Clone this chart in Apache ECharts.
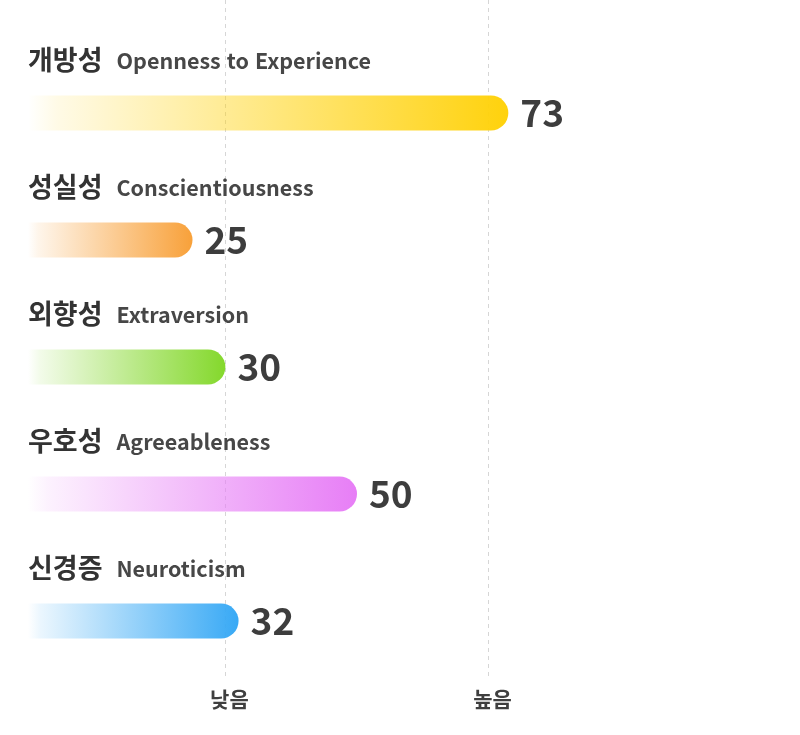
<!DOCTYPE html>
<html lang="ko">
<head>
    <meta charset="UTF-8">
    <title>성격 5요인</title>
    <script src="https://cdn.jsdelivr.net/npm/echarts@6/dist/echarts.min.js"></script>
    <style>
        *{
            margin:0;
            padding:0;
        }
        #main{
            width:800px;
            height:735px;
            background:#fff;
        }
    </style>
</head>
<body>
    <div id="main"></div>
    <script>
        var categories=['개방성','성실성','외향성','우호성','신경증']
        var englishNames=['Openness to Experience','Conscientiousness','Extraversion','Agreeableness','Neuroticism']
        var scores=[73,25,30,50,32]
        var barColors=['#FFD20C','#F8A13A','#84D82C','#E77EF6','#38A9F5']
        var levelTicks={30:'낮음',70:'높음'}  //눈금 라벨

        var font='"Noto Sans CJK KR", "Noto Sans", sans-serif'

        // 30, 70 위치에만 점선이 보이도록 색 배열
        var gridColors=[]
        for (var i=0;i<=10;i++){
            gridColors.push(levelTicks[i*10]?'#d6d6d6':'rgba(0,0,0,0)')
        }

        function fade(hex,a){
            var n=parseInt(hex.slice(1),16)
            return 'rgba('+(n>>16)+','+((n>>8)&255)+','+(n&255)+','+a+')'
        }

        var barData=scores.map(function(v,i){
            return {
                value:v,
                itemStyle:{
                    color:new echarts.graphic.LinearGradient(0,0,1,0,[
                        {offset:0,color:fade(barColors[i],0)},
                        {offset:0.06,color:fade(barColors[i],0.1)},
                        {offset:1,color:barColors[i]}
                    ]),
                    borderRadius:[0,18,18,0]
                }
            }
        })

        var myChart=echarts.init(document.getElementById('main'))
        var option={
            backgroundColor:'#fff',
            grid:[
                {left:28,right:114,top:0,bottom:55},      //점선 + 낮음/높음
                {left:28,right:114,top:49.5,height:635}   //막대
            ],
            xAxis:[
                {
                    gridIndex:0,
                    type:'value',
                    min:0,
                    max:100,
                    interval:10,
                    axisLine:{show:false},
                    axisTick:{show:false},
                    splitLine:{
                        show:true,
                        lineStyle:{color:gridColors,type:[4,4],width:1}
                    },
                    axisLabel:{
                        margin:9,
                        fontSize:21,
                        fontWeight:'bold',
                        color:'#3f3f3f',
                        fontFamily:font,
                        padding:[0,0,0,8],
                        formatter:function(v){
                            return levelTicks[v]||''
                        }
                    }
                },
                {
                    gridIndex:1,
                    type:'value',
                    min:0,
                    max:100,
                    show:false
                }
            ],
            yAxis:[
                {gridIndex:0,type:'value',show:false},
                {
                    gridIndex:1,
                    type:'category',
                    inverse:true,
                    data:categories,
                    axisLine:{show:false},
                    axisTick:{show:false},
                    splitLine:{show:false},
                    axisLabel:{
                        inside:true,
                        margin:0,
                        interval:0,
                        align:'left',
                        verticalAlign:'middle',
                        padding:[0,0,106,0],
                        formatter:function(name,idx){
                            return '{ko|'+name+'}{en|'+englishNames[idx]+'}'
                        },
                        rich:{
                            ko:{fontSize:27,fontWeight:'bold',color:'#333',fontFamily:font},
                            en:{fontSize:21.5,fontWeight:'bold',color:'#474747',fontFamily:font,padding:[2,0,0,14]}
                        }
                    }
                }
            ],
            series:[
                {
                    type:'bar',
                    xAxisIndex:1,
                    yAxisIndex:1,
                    data:barData,
                    barWidth:35,
                    label:{
                        show:true,
                        position:'right',
                        distance:12,
                        fontSize:37,
                        fontWeight:'bold',
                        color:'#3d3d3d',
                        fontFamily:font
                    },
                    animation:false
                }
            ]
        }
        myChart.setOption(option)
    </script>
</body>
</html>
